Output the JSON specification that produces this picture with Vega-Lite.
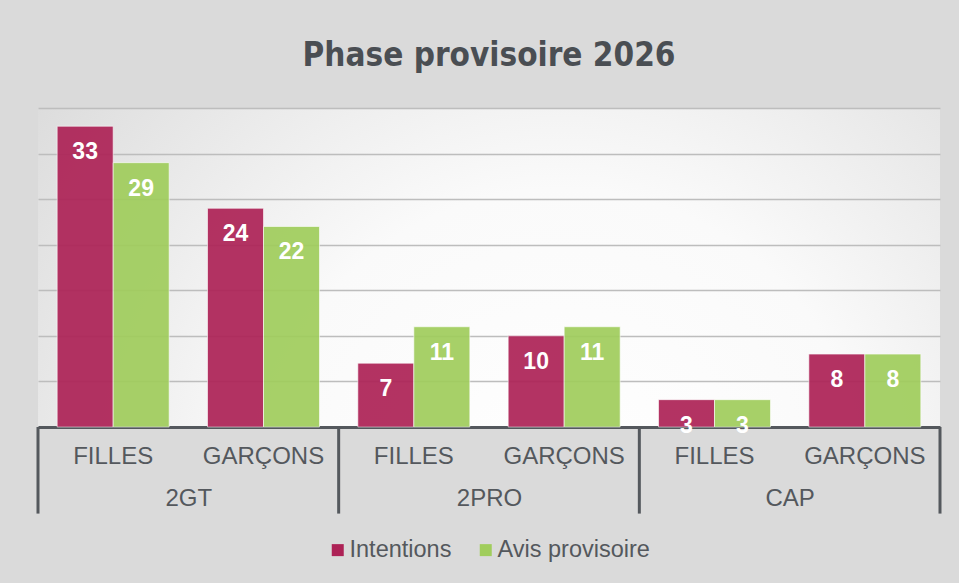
{
  "$schema": "https://vega.github.io/schema/vega-lite/v6.json",
  "autosize": {"type": "none"},
  "width": 902,
  "height": 319,
  "padding": {"left": 38, "top": 108, "right": 19, "bottom": 156},
  "background": "#dadada",
  "config": {
    "view": {
      "stroke": null,
      "fill": {"gradient": "radial", "x1": 0.58, "y1": 0.75, "r1": 0, "x2": 0.58, "y2": 0.75, "r2": 0.75,
        "stops": [{"offset": 0, "color": "#ffffff"}, {"offset": 0.45, "color": "#fafafa"}, {"offset": 1, "color": "#dadada"}]}
    },
    "font": "Liberation Sans"
  },
  "title": {
    "text": "Phase provisoire 2026",
    "font": "DejaVu Sans Condensed, DejaVu Sans",
    "fontSize": 33,
    "fontWeight": "bold",
    "color": "#4a4e53",
    "anchor": "middle",
    "offset": 35
  },
  "datasets": {
    "bars": [
      {"groupe": "2GT|FILLES", "serie": "Intentions", "valeur": 33},
      {"groupe": "2GT|FILLES", "serie": "Avis provisoire", "valeur": 29},
      {"groupe": "2GT|GARÇONS", "serie": "Intentions", "valeur": 24},
      {"groupe": "2GT|GARÇONS", "serie": "Avis provisoire", "valeur": 22},
      {"groupe": "2PRO|FILLES", "serie": "Intentions", "valeur": 7},
      {"groupe": "2PRO|FILLES", "serie": "Avis provisoire", "valeur": 11},
      {"groupe": "2PRO|GARÇONS", "serie": "Intentions", "valeur": 10},
      {"groupe": "2PRO|GARÇONS", "serie": "Avis provisoire", "valeur": 11},
      {"groupe": "CAP|FILLES", "serie": "Intentions", "valeur": 3},
      {"groupe": "CAP|FILLES", "serie": "Avis provisoire", "valeur": 3},
      {"groupe": "CAP|GARÇONS", "serie": "Intentions", "valeur": 8},
      {"groupe": "CAP|GARÇONS", "serie": "Avis provisoire", "valeur": 8}
    ],
    "separateurs": [
      {"pos": 0}, {"pos": 1}, {"pos": 2}, {"pos": 3}
    ]
  },
  "layer": [
    {
      "data": {"name": "bars"},
      "layer": [
        {
          "mark": {"type": "bar", "opacity": 0.92, "stroke": "#ffffff", "strokeOpacity": 0.6, "strokeWidth": 1},
          "encoding": {
            "x": {
              "field": "groupe", "type": "nominal", "sort": null,
              "scale": {"paddingInner": 0.255, "paddingOuter": 0.1275},
              "axis": {
                "title": null,
                "orient": "bottom",
                "labelExpr": "split(datum.value, '|')[1]",
                "labelAngle": 0,
                "labelFontSize": 24,
                "labelColor": "#54585d",
                "labelPadding": 17,
                "ticks": false,
                "domainColor": "#54585d",
                "domainWidth": 3,
                "grid": false
              }
            },
            "xOffset": {"field": "serie", "type": "nominal", "sort": ["Intentions", "Avis provisoire"], "scale": {"paddingInner": 0, "paddingOuter": 0}},
            "y": {
              "field": "valeur", "type": "quantitative",
              "scale": {"domain": [0, 35], "nice": false},
              "axis": {
                "title": null, "labels": false, "ticks": false, "domain": false,
                "values": [5, 10, 15, 20, 25, 30, 35],
                "grid": true, "gridColor": "#bdbdbd", "gridWidth": 1.5
              }
            },
            "color": {
              "field": "serie", "type": "nominal",
              "scale": {"domain": ["Intentions", "Avis provisoire"], "range": ["#ad2256", "#a0cd5c"]},
              "legend": {
                "title": null, "orient": "none", "direction": "horizontal",
                "legendX": 288, "legendY": 430,
                "symbolType": "square", "symbolSize": 144, "symbolStrokeWidth": 0, "symbolOpacity": 1,
                "labelFontSize": 23.5, "labelColor": "#54585d", "labelOffset": 0,
                "columnPadding": 22
              }
            }
          }
        },
        {
          "mark": {"type": "text", "baseline": "middle", "dy": 26, "color": "#ffffff", "fontWeight": "bold", "fontSize": 23},
          "encoding": {
            "x": {"field": "groupe", "type": "nominal", "sort": null},
            "xOffset": {"field": "serie", "type": "nominal", "sort": ["Intentions", "Avis provisoire"]},
            "y": {"field": "valeur", "type": "quantitative"},
            "text": {"field": "valeur", "type": "quantitative"}
          }
        }
      ]
    },
    {
      "data": {"name": "separateurs"},
      "mark": {"type": "rule", "color": "#54585d", "strokeWidth": 3},
      "encoding": {
        "x": {
          "field": "pos", "type": "quantitative",
          "scale": {"domain": [0, 3], "nice": false, "zero": false},
          "axis": {
            "title": null, "orient": "bottom", "grid": false, "ticks": false, "domain": false,
            "values": [0.5, 1.5, 2.5],
            "labelExpr": "['2GT', '2PRO', 'CAP'][floor(datum.value)]",
            "labelFontSize": 24, "labelColor": "#54585d", "labelPadding": 59
          }
        },
        "y": {"datum": 0},
        "y2": {"datum": -9.5}
      }
    }
  ],
  "resolve": {"scale": {"x": "independent"}}
}
